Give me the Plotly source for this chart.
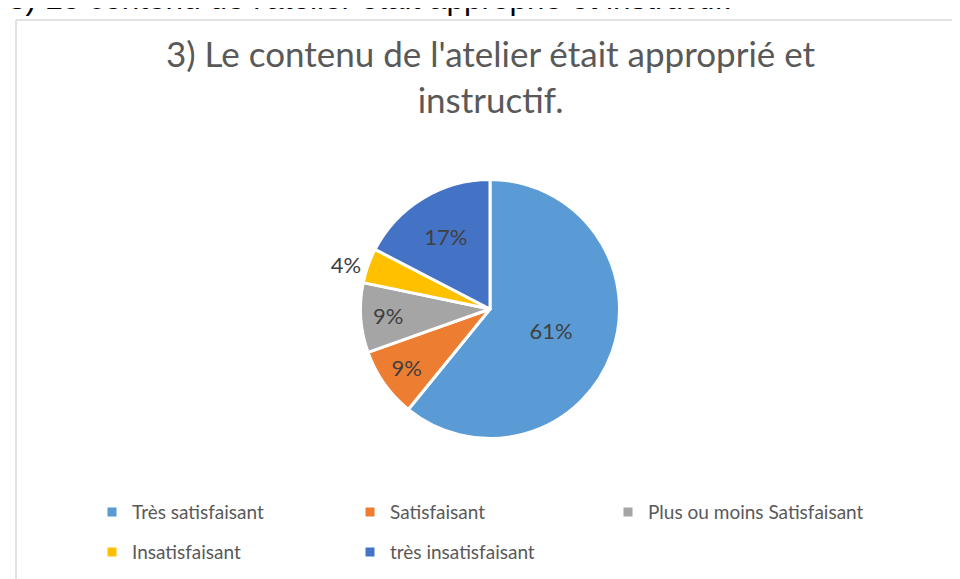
import plotly.graph_objects as go

# Réponses à la question 3 (23 participants)
categories = ["Très satisfaisant", "Satisfaisant", "Plus ou moins Satisfaisant",
              "Insatisfaisant", "très insatisfaisant"]
counts = [14, 2, 2, 1, 4]
colors = ["#5B9BD5", "#ED7D31", "#A5A5A5", "#FFC000", "#4472C4"]
label_pos = ["inside", "inside", "inside", "outside", "inside"]

W, H = 960, 579
title_text = "3) Le contenu de l'atelier était approprié et<br>instructif."
header_text = "3) Le contenu de l'atelier était approprié et instructif."

# pie centre and radius in pixels (tuned to the rendered result)
cx, cy, r = 482, 301, 129.5

# legend rows are spaced from legend.font.size, the visible text is smaller
legend_labels = ['<span style="font-size:19px;baseline-shift:4px">%s</span>' % c
                 for c in categories]

fig = go.Figure(go.Pie(
    labels=legend_labels,
    values=counts,
    marker=dict(colors=colors, line=dict(color="white", width=3)),
    sort=False,
    direction="clockwise",
    rotation=0,
    texttemplate="%{percent:.0%}",
    textposition=label_pos,
    insidetextorientation="horizontal",
    textfont=dict(family="Lato, Noto Sans", size=22, color="#404040"),
    domain=dict(x=[(cx - r) / W, (cx + r) / W],
                y=[1 - (cy + r) / H, 1 - (cy - r) / H]),
    hoverinfo="percent",
))

fig.update_layout(
    width=W, height=H,
    margin=dict(l=0, r=0, t=0, b=0),
    paper_bgcolor="white",
    plot_bgcolor="white",
    font=dict(family="Lato, Noto Sans", color="#595959"),
    legend=dict(orientation="h", x=84 / W, xanchor="left",
                y=1 - 479 / H, yanchor="top",
                entrywidth=213, entrywidthmode="pixels",
                font=dict(family="Lato, Noto Sans", size=28.5, color="#595959"),
                traceorder="normal"),
    shapes=[
        dict(type="line", xref="paper", yref="paper",
             x0=8 / W, x1=1, y0=1 - 12 / H, y1=1 - 12 / H,
             line=dict(color="#D9D9D9", width=1.5)),
        dict(type="line", xref="paper", yref="paper",
             x0=8 / W, x1=8 / W, y0=0, y1=1 - 12 / H,
             line=dict(color="#D9D9D9", width=1.5)),
    ],
    annotations=[
        dict(text=header_text, xref="paper", yref="paper",
             x=-2 / W, xanchor="left", y=1 - 10 / H, yanchor="bottom",
             showarrow=False,
             font=dict(family="Liberation Sans, Arial", size=31.5, color="black")),
        dict(text=title_text, xref="paper", yref="paper",
             x=483 / W, xanchor="center", y=1 - 68 / H, yanchor="middle",
             showarrow=False,
             font=dict(family="Lato, Noto Sans", size=35, color="#595959")),
    ],
)

fig.write_html("out.html")
